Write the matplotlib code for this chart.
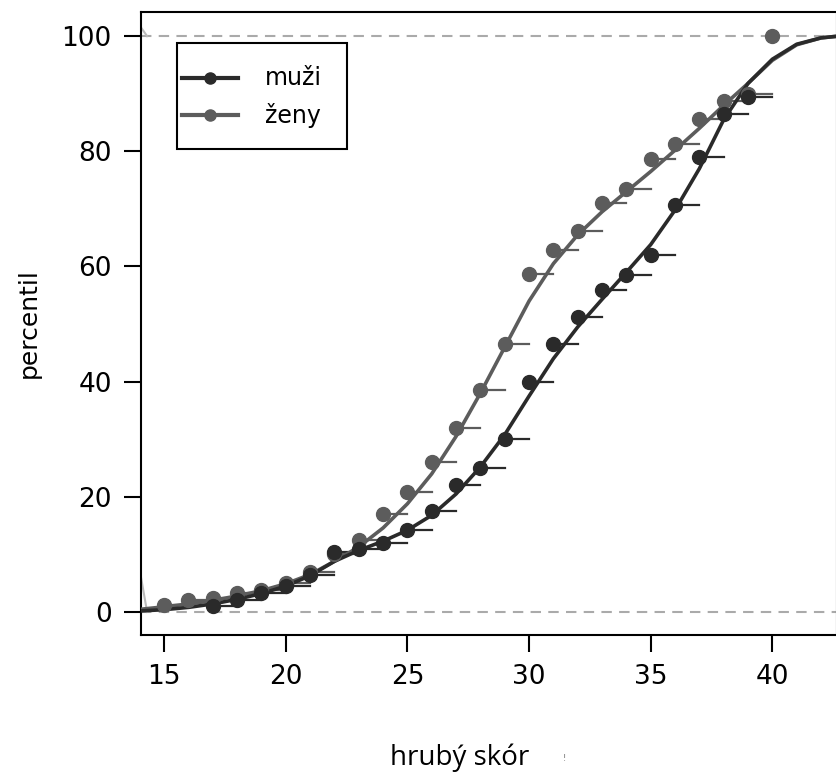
import matplotlib
matplotlib.use('Agg')
import matplotlib.pyplot as plt
from matplotlib.patches import Rectangle

# percentil points (raw score -> percentile)
muzi_x = [17, 18, 19, 20, 21, 22, 23, 24, 25, 26, 27, 28, 29, 30, 31, 32, 33, 34, 35, 36, 37, 38, 39]
muzi_y = [1.0, 2.0, 3.3, 4.5, 6.5, 10.5, 11.0, 12.0, 14.3, 17.5, 22.0, 25.0, 30.0, 40.0, 46.5, 51.3,
          56.0, 58.5, 62.0, 70.7, 79.0, 86.5, 89.5]
zeny_x = [15, 16, 17, 18, 19, 20, 21, 22, 23, 24, 25, 26, 27, 28, 29, 30, 31, 32, 33, 34, 35, 36, 37,
          38, 39, 40]
zeny_y = [1.3, 2.0, 2.5, 3.3, 3.8, 5.0, 7.0, 10.0, 12.5, 17.0, 20.8, 26.0, 32.0, 38.5, 46.5, 58.7,
          62.8, 66.2, 71.0, 73.5, 78.7, 81.3, 85.7, 88.7, 90.0, 100.0]

# smoothed curves
curve_x = [14.1, 15, 16, 17, 18, 19, 20, 21, 22, 23, 24, 25, 26, 27, 28, 29, 30, 31, 32, 33, 34, 35,
           36, 37, 38, 39, 40, 41, 42, 42.7]
muzi_curve = [0.2, 0.4, 0.8, 1.4, 2.2, 3.2, 4.5, 6.3, 8.8, 10.7, 12.3, 14.2, 16.8, 20.5, 25.2, 30.8,
              37.5, 44.0, 49.5, 54.3, 59.0, 63.8, 69.8, 77.0, 85.5, 91.8, 96.0, 98.6, 99.7, 100.0]
zeny_curve = [0.5, 0.9, 1.4, 2.0, 2.8, 3.7, 4.9, 6.5, 8.8, 11.3, 14.6, 18.8, 24.0, 30.5, 38.0, 46.0,
              54.0, 60.5, 65.5, 69.5, 73.0, 76.5, 80.2, 84.0, 88.0, 91.8, 95.8, 98.5, 99.7, 100.0]

# light grey edge pieces at the left border
edge_low_x = [14.05, 14.3]
edge_low_y = [6.0, 0.0]
edge_high_x = [14.05, 14.3]
edge_high_y = [101.5, 100.0]

labels = ['muži', 'ženy']

c_m = '#2a2a2a'
c_z = '#5c5c5c'

plt.rcParams['font.family'] = ['DejaVu Sans']

fig = plt.figure(figsize=(8.37, 7.73), dpi=100)
ax = fig.add_axes([0.1685, 0.1785, 0.8310, 0.8060])

ax.axhline(0, color='#aaaaaa', lw=1.5, ls=(0, (5, 3.5)), zorder=1)
ax.axhline(100, color='#aaaaaa', lw=1.5, ls=(0, (5, 3.5)), zorder=1)
ax.plot(edge_low_x, edge_low_y, color='#bbbbbb', lw=1.5, zorder=1)
ax.plot(edge_high_x, edge_high_y, color='#bbbbbb', lw=1.5, zorder=1)

# step dashes
for x, y in zip(muzi_x, muzi_y):
    ax.plot([x, x + 1], [y, y], color=c_m, lw=1.6, zorder=2)
for x, y in zip(zeny_x, zeny_y):
    if x < 40:
        ax.plot([x, x + 1], [y, y], color=c_z, lw=1.6, zorder=2)

ax.plot(curve_x, zeny_curve, color=c_z, lw=2.6, zorder=3)
ax.plot(curve_x, muzi_curve, color=c_m, lw=2.6, zorder=3)
ax.plot(zeny_x, zeny_y, 'o', color=c_z, ms=10, zorder=4)
ax.plot(muzi_x, muzi_y, 'o', color=c_m, ms=10, zorder=4)

# legend box drawn by hand (R style)
T = ax.transAxes
ax.add_patch(Rectangle((0.0517, 0.780), 0.2443, 0.170, transform=T, fill=True,
                       facecolor='white', edgecolor='black', lw=1.5, zorder=5))
for yy, col, lab in zip([0.894, 0.834], [c_m, c_z], labels):
    ax.plot([0.0589, 0.1394], [yy, yy], color=col, lw=3, transform=T, zorder=6)
    ax.plot([0.0991], [yy], 'o', color=col, ms=8, transform=T, zorder=6)
    ax.text(0.178, yy, lab, fontsize=17, transform=T, va='center', ha='left', zorder=6)

ax.set_xlim(14.05, 42.64)
ax.set_ylim(-4, 104.2)
ax.set_xticks([15, 20, 25, 30, 35, 40])
ax.set_yticks([0, 20, 40, 60, 80, 100])
ax.tick_params(direction='out', length=12, width=1.5, labelsize=19, pad=9)
for s in ax.spines.values():
    s.set_linewidth(1.5)

ax.set_ylabel('percentil', fontsize=18, labelpad=15)
fig.text(0.549, 0.010, 'hrubý skór', fontsize=20, family='Open Sans', ha='center', va='baseline')
fig.text(0.674, 0.016, '!', fontsize=6, color='#777777', ha='center', va='baseline')

fig.savefig('out.png', dpi=100)
